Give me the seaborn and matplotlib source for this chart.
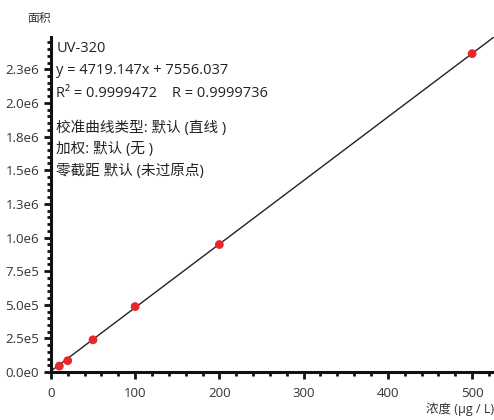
import numpy as np
import pandas as pd
import matplotlib
matplotlib.use("Agg")
import matplotlib.pyplot as plt
from matplotlib.ticker import MultipleLocator
import seaborn as sns

# calibration points
conc = [10, 20, 50, 100, 200, 500]
area = [45000, 85000, 240000, 487000, 948000, 2366000]
slope = 4719.147
intercept = 7556.037

yticks = [0, 2.5e5, 5.0e5, 7.5e5, 1.0e6, 1.25e6, 1.5e6, 1.75e6, 2.0e6, 2.25e6]
ytick_labels = ["0.0e0", "2.5e5", "5.0e5", "7.5e5", "1.0e6", "1.3e6", "1.5e6", "1.8e6", "2.0e6", "2.3e6"]
xticks = [0, 100, 200, 300, 400, 500]

info = [
    "UV-320",
    "y = 4719.147x + 7556.037",
    "R² = 0.9999472    R = 0.9999736",
]
info2 = [
    "校准曲线类型: 默认 (直线 )",
    "加权: 默认 (无 )",
    "零截距 默认 (未过原点)",
]

sns.set_style("ticks")
plt.rcParams['font.family'] = ['Open Sans', 'Noto Sans CJK SC', 'DejaVu Sans']

df = pd.DataFrame({"conc": conc, "area": area})

fig = plt.figure(figsize=(4.94, 4.20), dpi=100)
ax = fig.add_axes([0.103, 0.114, 0.897, 0.798])

xmax = 526
xl = np.array([0, xmax])
sns.lineplot(x=xl, y=slope * xl + intercept, color="#222222", linewidth=1.0, ax=ax)
sns.scatterplot(data=df, x="conc", y="area", color="#e8262c", s=40, edgecolor="none", ax=ax, zorder=3)

ax.set_xlim(0, xmax)
ax.set_ylim(0, 2.49e6)
ax.set_xticks(xticks)
ax.set_xticklabels([str(t) for t in xticks])
ax.set_yticks(yticks)
ax.set_yticklabels(ytick_labels)
ax.xaxis.set_minor_locator(MultipleLocator(20))
ax.yaxis.set_minor_locator(MultipleLocator(5e4))
ax.tick_params(which="major", length=5, width=2, labelsize=9.5, colors="#111111", labelcolor="#333333")
ax.tick_params(which="minor", length=3, width=2, colors="#111111")
ax.tick_params(axis="x", pad=6)
ax.set_xlabel("")
ax.set_ylabel("")
sns.despine(ax=ax)
for s in ["left", "bottom"]:
    ax.spines[s].set_linewidth(2.2)
    ax.spines[s].set_color("#111111")

ax.text(0.012, 0.988, "\n".join(info), transform=ax.transAxes, fontsize=10.5,
        va="top", ha="left", linespacing=1.68, color="#222222")
ax.text(0.012, 0.752, "\n".join(info2), transform=ax.transAxes, fontsize=10.5,
        va="top", ha="left", linespacing=1.62, color="#222222")

fig.text(0.055, 0.955, "面积", fontsize=8.5, ha="left", va="center", color="#333333")
fig.text(1.0, 0.025, "浓度 (μg / L)", fontsize=9, ha="right", va="center", color="#333333")

fig.savefig("out.png", dpi=100)
